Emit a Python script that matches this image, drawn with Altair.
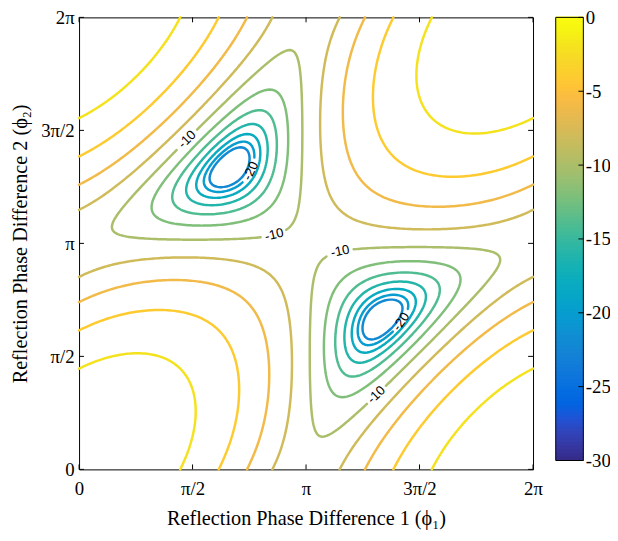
import numpy as np
import pandas as pd
import altair as alt

# ---------------- values ----------------
tick_vals = [0, 0.5, 1, 1.5, 2]                 # phase, in units of pi
tick_labels = ["0", "π/2", "π", "3π/2", "2π"]
levels = [-22, -20, -18, -16, -14, -12, -10, -8, -6, -4, -2]   # contour levels, dB
amps = [1.0, 1.0, 1.0]                           # three equal reflections: 1 + e^{j phi1} + e^{j phi2}
label_level = [-10, -10, -20, -10, -10, -20]
label_p1 = [0.491, 0.861, 0.761, 1.152, 1.313, 1.426]
label_p2 = [1.443, 1.026, 1.322, 0.957, 0.326, 0.652]
cb_ticks = [0, -5, -10, -15, -20, -25, -30]
cb_labels = ["0", "-5", "-10", "-15", "-20", "-25", "-30"]
cb_domain = [-30, 0]

parula = [
    (0.2081, 0.1663, 0.5292), (0.2123, 0.2138, 0.6270), (0.1959, 0.2645, 0.7279),
    (0.1253, 0.3242, 0.8303), (0.0117, 0.3875, 0.8820), (0.0165, 0.4266, 0.8786),
    (0.0498, 0.4586, 0.8641), (0.0723, 0.4887, 0.8467), (0.0793, 0.5200, 0.8312),
    (0.0641, 0.5570, 0.8240), (0.0343, 0.5966, 0.8199), (0.0239, 0.6287, 0.8038),
    (0.0228, 0.6535, 0.7768), (0.0384, 0.6743, 0.7436), (0.0843, 0.6928, 0.7062),
    (0.1453, 0.7098, 0.6646), (0.2178, 0.7250, 0.6193), (0.3022, 0.7376, 0.5712),
    (0.3953, 0.7459, 0.5244), (0.4871, 0.7491, 0.4840), (0.5709, 0.7485, 0.4494),
    (0.6473, 0.7456, 0.4188), (0.7184, 0.7411, 0.3905), (0.7858, 0.7356, 0.3633),
    (0.8507, 0.7299, 0.3360), (0.9139, 0.7258, 0.3063), (0.9739, 0.7314, 0.2666),
    (0.9990, 0.7653, 0.2164), (0.9880, 0.8066, 0.1794), (0.9697, 0.8481, 0.1475),
    (0.9589, 0.8949, 0.1132), (0.9661, 0.9514, 0.0755), (0.9763, 0.9831, 0.0538),
]
par_hex = ["#%02x%02x%02x" % tuple(int(round(c * 255)) for c in rgb) for rgb in parula]
par_dom = list(np.linspace(cb_domain[0], cb_domain[1], len(par_hex)))
color_scale = alt.Scale(domain=par_dom, range=par_hex, interpolate="rgb")

# ---------------- field and contours (marching squares) ----------------
N = 201
g = np.linspace(0.0, 2.0, N)
P1, P2 = np.meshgrid(g, g, indexing="ij")
resp = np.abs(amps[0] + amps[1] * np.exp(1j * np.pi * P1) + amps[2] * np.exp(1j * np.pi * P2)) / sum(amps)
F = 20 * np.log10(np.maximum(resp, 1e-9))


def edge_point(key, L):
    kind, i, j = key
    if kind == "h":
        v0, v1 = F[i, j], F[i + 1, j]
        t = (L - v0) / (v1 - v0)
        return (g[i] + t * (g[i + 1] - g[i]), g[j])
    v0, v1 = F[i, j], F[i, j + 1]
    t = (L - v0) / (v1 - v0)
    return (g[i], g[j] + t * (g[j + 1] - g[j]))


def contour(L):
    above = F > L
    a = above[:-1, :-1]; b = above[1:, :-1]; c = above[1:, 1:]; d = above[:-1, 1:]
    case = a * 1 + b * 2 + c * 4 + d * 8
    segs = []
    for i, j in np.argwhere((case != 0) & (case != 15)):
        cs = case[i, j]
        e0 = ("h", i, j); e1 = ("v", i + 1, j); e2 = ("h", i, j + 1); e3 = ("v", i, j)
        A, B, C, D = a[i, j], b[i, j], c[i, j], d[i, j]
        cr = []
        if A != B: cr.append(e0)
        if B != C: cr.append(e1)
        if C != D: cr.append(e2)
        if D != A: cr.append(e3)
        if len(cr) == 2:
            segs.append((cr[0], cr[1]))
        else:
            center = (F[i, j] + F[i + 1, j] + F[i + 1, j + 1] + F[i, j + 1]) / 4 > L
            if (cs == 5) == bool(center):
                segs += [(e0, e1), (e2, e3)]
            else:
                segs += [(e3, e0), (e1, e2)]
    adj = {}
    for k, (p, q) in enumerate(segs):
        adj.setdefault(p, []).append(k)
        adj.setdefault(q, []).append(k)
    used = [False] * len(segs)
    paths = []
    for k in range(len(segs)):
        if used[k]:
            continue
        used[k] = True
        fwd = [segs[k][0], segs[k][1]]
        for direction in (0, 1):
            while True:
                end = fwd[-1]
                nxt = [m for m in adj[end] if not used[m]]
                if not nxt:
                    break
                m = nxt[0]
                used[m] = True
                s = segs[m]
                fwd.append(s[1] if s[0] == end else s[0])
            if direction == 0:
                fwd = fwd[::-1]
        closed = fwd[0] == fwd[-1]
        pts = np.array([edge_point(e, L) for e in fwd])
        paths.append((pts, closed))
    return paths


paths_by_level = {L: contour(L) for L in levels}

# ---------------- labels: snap to contour, tangent angle ----------------
gap_r = 13.0 / 230.0
label_rows = []
centres = {}
for lv, a1, a2 in zip(label_level, label_p1, label_p2):
    best = None
    for pid, (pts, closed) in enumerate(paths_by_level[lv]):
        dd = np.hypot(pts[:, 0] - a1, pts[:, 1] - a2)
        k = int(np.argmin(dd))
        if best is None or dd[k] < best[0]:
            best = (dd[k], pid, k)
    _, pid, k = best
    pts, closed = paths_by_level[lv][pid]
    n = len(pts)
    if closed:
        m = n - 1
        p_a, p_b = pts[(k - 3) % m], pts[(k + 3) % m]
    else:
        p_a, p_b = pts[max(k - 3, 0)], pts[min(k + 3, n - 1)]
    ang = np.degrees(np.arctan2(-(p_b[1] - p_a[1]), p_b[0] - p_a[0]))
    if ang > 90: ang -= 180
    if ang < -90: ang += 180
    label_rows.append({"p1": pts[k, 0], "p2": pts[k, 1], "txt": str(lv), "ang": ang % 360})
    centres.setdefault(lv, []).append(pts[k])

rows = []
pid_counter = 0
for L in levels:
    for pts, closed in paths_by_level[L]:
        keep = np.ones(len(pts), dtype=bool)
        for cpt in centres.get(L, []):
            keep &= np.hypot(pts[:, 0] - cpt[0], pts[:, 1] - cpt[1]) > gap_r
        if keep.all():
            pieces = [pts]
        else:
            if closed:
                pts2 = pts[:-1]; keep2 = keep[:-1]
                s = int(np.argmin(keep2))
                pts2 = np.roll(pts2, -s, axis=0); keep2 = np.roll(keep2, -s)
            else:
                pts2, keep2 = pts, keep
            pieces = []
            cur = []
            for p, kk in zip(pts2, keep2):
                if kk:
                    cur.append(p)
                elif cur:
                    pieces.append(np.array(cur)); cur = []
            if cur:
                pieces.append(np.array(cur))
        for pc in pieces:
            if len(pc) < 2:
                continue
            for o, p in enumerate(pc):
                rows.append((pid_counter, o, round(float(p[0]), 5), round(float(p[1]), 5), L))
            pid_counter += 1

lines_df = pd.DataFrame(rows, columns=["path", "o", "p1", "p2", "level"])
labels_df = pd.DataFrame(label_rows)
ticks_df = pd.DataFrame({"p1": tick_vals, "p2": tick_vals})
edges = np.linspace(cb_domain[0], cb_domain[1], 121)
cb_df = pd.DataFrame({"lo": edges[:-1], "hi": edges[1:] + 0.06, "mid": (edges[:-1] + edges[1:]) / 2})
cbt_df = pd.DataFrame({"lo": cb_ticks})
frame_df = pd.DataFrame({"lo": [cb_domain[0]], "hi": [cb_domain[1]]})

W, H = 460, 458
SERIF = "Liberation Serif"
xlab = "[" + ",".join("'%s'" % t for t in tick_labels) + "][round(datum.value*2)]"
cblab = "[" + ",".join("'%s'" % t for t in cb_labels) + "][round(-datum.value/5)]"

xscale = alt.Scale(domain=[0, 2], nice=False, zero=False)
yscale = alt.Scale(domain=[0, 2], nice=False, zero=False)
common = dict(values=tick_vals, labelExpr=xlab, ticks=False, domain=False, grid=False,
              labelFlush=False, labelFontSize=19, titleFontSize=20.5, labelFont=SERIF,
              titleFont=SERIF, titleFontWeight="normal", labelColor="black", titleColor="black")
x_axis = alt.Axis(labelPadding=10, titlePadding=11, title="Reflection Phase Difference 1 (ϕ₁)", **common)
y_axis = alt.Axis(labelPadding=5, titlePadding=10, title="Reflection Phase Difference 2 (ϕ₂)", **common)
X = alt.X("p1:Q", scale=xscale, axis=x_axis)
Y = alt.Y("p2:Q", scale=yscale, axis=y_axis)

contours = alt.Chart(lines_df).mark_line(strokeWidth=2.5, strokeCap="round", strokeJoin="round").encode(
    x=X, y=Y,
    color=alt.Color("level:Q", scale=color_scale, legend=None),
    detail="path:N",
    order="o:Q",
)

texts = alt.Chart(labels_df).mark_text(font="Liberation Sans", fontSize=13.3, color="black",
                                       align="center", baseline="middle").encode(
    x=X, y=Y, text="txt:N", angle=alt.Angle("ang:Q", scale=None))

tb = alt.Chart(ticks_df).mark_rule(color="black", strokeWidth=1).encode(
    x=X, y=alt.value(H), y2=alt.value(H - 5))
tt = alt.Chart(ticks_df).mark_rule(color="black", strokeWidth=1).encode(
    x=X, y=alt.value(0), y2=alt.value(5))
tl = alt.Chart(ticks_df).mark_rule(color="black", strokeWidth=1).encode(
    y=Y, x=alt.value(0), x2=alt.value(5))
tr = alt.Chart(ticks_df).mark_rule(color="black", strokeWidth=1).encode(
    y=Y, x=alt.value(W - 5), x2=alt.value(W))

main = alt.layer(contours, texts, tb, tt, tl, tr)

CB_X0, CB_X1 = 483, 511
cb_scale = alt.Scale(domain=[-30.601, 0], nice=False, zero=False)
cb_axis = alt.Axis(orient="right", offset=CB_X1 - W, values=cb_ticks, labelExpr=cblab, ticks=False,
                   domain=False, grid=False, labelPadding=2, labelFontSize=19, labelFont=SERIF,
                   labelColor="black", title=None, labelFlush=False)
CBY = alt.Y("lo:Q", scale=cb_scale, axis=cb_axis)
cb_rect = alt.Chart(cb_df).mark_rect(strokeWidth=0).encode(
    x=alt.value(CB_X0), x2=alt.value(CB_X1), y=CBY, y2="hi:Q",
    color=alt.Color("mid:Q", scale=color_scale, legend=None),
)
cb_ticks_l = alt.Chart(cbt_df).mark_rule(color="black", strokeWidth=1).encode(
    y=CBY, x=alt.value(CB_X1 - 5), x2=alt.value(CB_X1))
cb_frame = alt.Chart(frame_df).mark_rect(fillOpacity=0, stroke="black", strokeWidth=1).encode(
    x=alt.value(CB_X0), x2=alt.value(CB_X1), y=CBY, y2="hi:Q")
cbar = alt.layer(cb_rect, cb_ticks_l, cb_frame)

chart = alt.layer(main, cbar).resolve_scale(y="independent").properties(
    width=W, height=H,
    background="white",
    autosize=alt.AutoSizeParams(type="none"),
    padding={"left": 72, "top": 6, "right": 78, "bottom": 65},
).configure_view(stroke="black", strokeWidth=1)

chart.save("out.html", embed_options={"renderer": "svg", "actions": False})
